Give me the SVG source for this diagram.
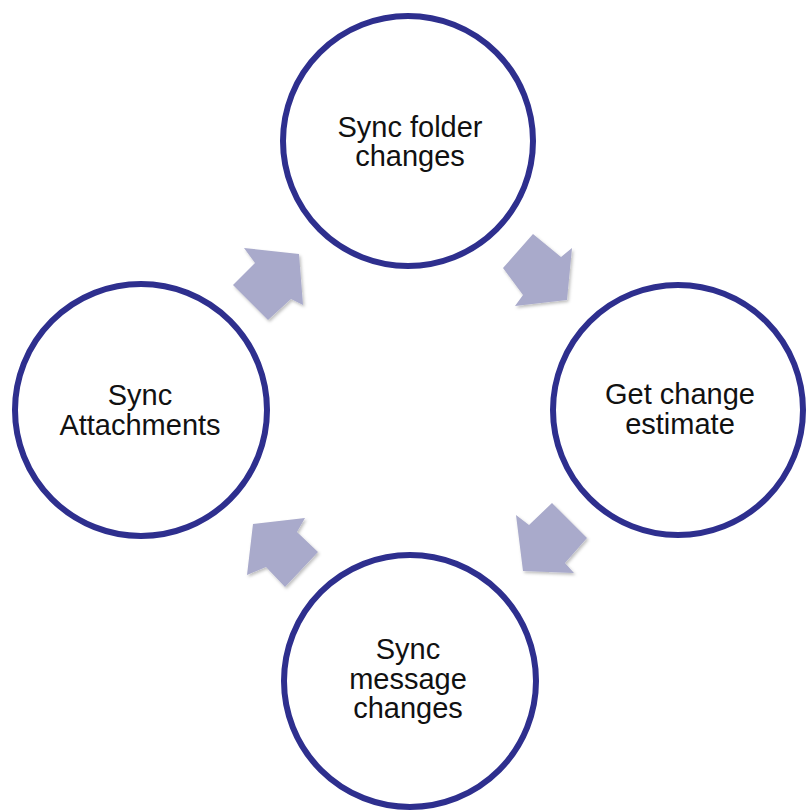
<svg xmlns="http://www.w3.org/2000/svg" width="807" height="810" viewBox="0 0 807 810">
<defs>
<style>
.node circle{fill:#ffffff;stroke:#2e2f8e;stroke-width:6}
.node text{font-family:"Liberation Sans",Arial,sans-serif;font-size:29px;fill:#111111;text-anchor:middle}
.arrow{fill:#a9aacb;filter:url(#sh)}
</style>
<filter id="sh" x="-20%" y="-20%" width="140%" height="140%">
<feDropShadow dx="1.5" dy="2" stdDeviation="1.5" flood-color="#000000" flood-opacity="0.25"/>
</filter>
</defs>
<rect width="807" height="810" fill="#ffffff"/>
<g id="connectors">
<polygon class="arrow" points="244,248 299,254 303,305 291,299 268,320 233,285 255,263"/>
<polygon class="arrow" points="533,234 561,257 572,248 567,300 515,306 523,295 503,268"/>
<polygon class="arrow" points="552,503 587,538 565,563 574,573 523,571 516,515 529,525"/>
<polygon class="arrow" points="253,524 305,518 297,532 318,552 285,587 266,567 247,575"/>
</g>
<g id="node-top" class="node">
<circle cx="408" cy="141" r="125"/>
<text x="410" y="137">Sync folder</text>
<text x="410" y="166">changes</text>
</g>
<g id="node-right" class="node">
<circle cx="678" cy="410" r="125"/>
<text x="680" y="404">Get change</text>
<text x="680" y="434">estimate</text>
</g>
<g id="node-bottom" class="node">
<circle cx="410" cy="681" r="126"/>
<text x="408" y="659">Sync</text>
<text x="408" y="689">message</text>
<text x="408" y="718">changes</text>
</g>
<g id="node-left" class="node">
<circle cx="141" cy="410" r="126"/>
<text x="140" y="405">Sync</text>
<text x="140" y="435">Attachments</text>
</g>
</svg>
